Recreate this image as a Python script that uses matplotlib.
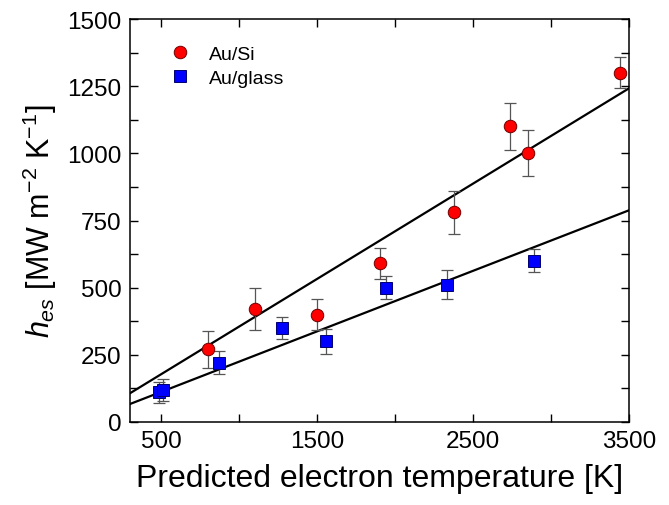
import matplotlib
matplotlib.use("Agg")
import matplotlib.pyplot as plt
import numpy as np
from matplotlib.ticker import MultipleLocator, FixedLocator

# Au/Si data (red circles)
si_temp = [800, 1100, 1500, 1900, 2380, 2740, 2850, 3445]
si_h = [270, 420, 400, 590, 780, 1100, 1000, 1300]
si_err = [70, 78, 58, 58, 80, 86, 85, 57]

# Au/glass data (blue squares)
glass_temp = [487, 509, 870, 1275, 1560, 1940, 2330, 2890]
glass_h = [110, 120, 220, 350, 300, 500, 510, 600]
glass_err = [40, 40, 43, 42, 48, 43, 54, 43]

# linear fit lines, end points
fit_temp = [300, 3500]
si_fit = [107, 1242]
glass_fit = [67, 788]

x_ticks = [500, 1500, 2500, 3500]
y_ticks = [0, 250, 500, 750, 1000, 1250, 1500]

plt.rcParams['font.family'] = ['Liberation Sans', 'DejaVu Sans']
plt.rcParams['mathtext.fontset'] = 'custom'
plt.rcParams['mathtext.rm'] = 'Liberation Sans'
plt.rcParams['mathtext.it'] = 'Liberation Sans:italic'

fig = plt.figure(figsize=(6.69, 5.06), dpi=100)
ax = fig.add_axes([130 / 669, 1 - 423 / 506, 499 / 669, 403 / 506])

ax.plot(fit_temp, si_fit, color='black', lw=1.6, zorder=2)
ax.plot(fit_temp, glass_fit, color='black', lw=1.6, zorder=2)

ax.errorbar(si_temp, si_h, yerr=si_err, fmt='none', ecolor='#555555',
            elinewidth=0.9, capsize=4, capthick=0.9, zorder=3)
ax.errorbar(glass_temp, glass_h, yerr=glass_err, fmt='none', ecolor='#555555',
            elinewidth=0.9, capsize=4, capthick=0.9, zorder=3)

ax.plot(si_temp, si_h, 'o', color='#ff0000', markeredgecolor='#700000',
        markeredgewidth=0.7, markersize=9, ls='none', label='Au/Si', zorder=4)
ax.plot(glass_temp, glass_h, 's', color='#0000ff', markeredgecolor='#000070',
        markeredgewidth=0.7, markersize=8, ls='none', label='Au/glass', zorder=4)

ax.set_xlim(300, 3500)
ax.set_ylim(0, 1500)
ax.xaxis.set_major_locator(FixedLocator(x_ticks))
ax.xaxis.set_minor_locator(FixedLocator([1000, 2000, 3000]))
ax.yaxis.set_major_locator(FixedLocator(y_ticks))
ax.yaxis.set_minor_locator(MultipleLocator(125))
ax.tick_params(which='both', direction='in', top=True, right=True,
               length=5.5, width=1.0, labelsize=17.5, pad=6)

for s in ax.spines.values():
    s.set_linewidth(1.1)

ax.set_xlabel('Predicted electron temperature [K]', fontsize=23, labelpad=8)
ax.set_ylabel(r'$h_{es}$ [MW m$^{-2}$ K$^{-1}$]', fontsize=22, labelpad=6)

ax.legend(loc='upper left', bbox_to_anchor=(0.045, 0.955), frameon=False,
          fontsize=14, handletextpad=0.5, labelspacing=0.35, borderaxespad=0)

fig.savefig('out.png', dpi=100)
